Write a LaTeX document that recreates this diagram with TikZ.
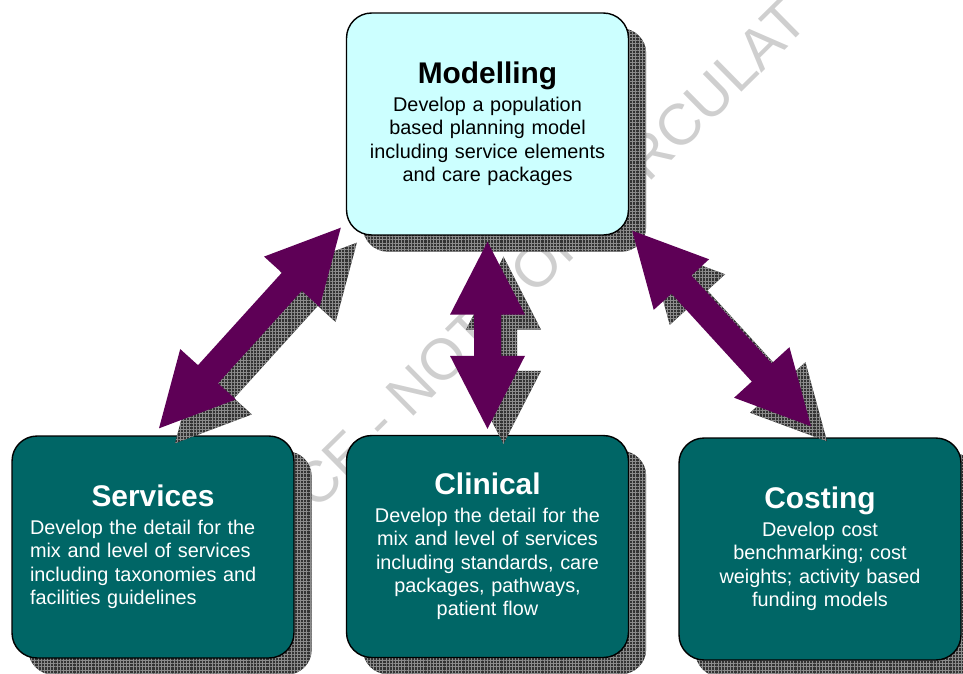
\documentclass[tikz,border=0pt]{standalone}
\usepackage{fontspec}
\setmainfont{Liberation Sans}
\usetikzlibrary{calc,patterns.meta}

\definecolor{skyfill}{HTML}{CCFFFF}
\definecolor{tealfill}{HTML}{006666}
\definecolor{plum}{HTML}{5E0056}

\pgfdeclarelayer{back}
\pgfsetlayers{back,main}

\newcommand{\ttlfont}{\fontsize{17}{20}\selectfont\bfseries}
\newcommand{\stagetitle}[1]{{\centering\ttlfont #1\par}\vspace{2.5pt}}

% sizes of the fat double arrows
\def\arrhead{1.46cm}
\def\arrwing{0.75cm}
\def\arrshaft{0.27cm}
% outline of a fat double arrow between two points
\newcommand{\fatarrow}[2]{(#1)
  -- ($(#1)!\arrhead!(#2)!\arrwing!90:(#2)$) -- ($(#1)!\arrhead!(#2)!\arrshaft!90:(#2)$)
  -- ($(#2)!\arrhead!(#1)!\arrshaft!-90:(#1)$) -- ($(#2)!\arrhead!(#1)!\arrwing!-90:(#1)$)
  -- (#2)
  -- ($(#2)!\arrhead!(#1)!\arrwing!90:(#1)$) -- ($(#2)!\arrhead!(#1)!\arrshaft!90:(#1)$)
  -- ($(#1)!\arrhead!(#2)!\arrshaft!-90:(#2)$) -- ($(#1)!\arrhead!(#2)!\arrwing!-90:(#2)$)
  -- cycle}

\tikzset{
  stagebox/.style={draw=black, line width=0.8pt, rounded corners=0.5cm,
    minimum width=5.64cm, minimum height=4.44cm, text width=4.92cm,
    align=center, font=\fontsize{11.3}{13.3}\selectfont},
  topbox/.style={stagebox, fill=skyfill, text=black},
  lowbox/.style={stagebox, fill=tealfill, text=white},
  hatchshadow/.style={preaction={fill=black!80},
    pattern={Hatch[angle=0, distance=1.8pt, line width=0.35pt]}, pattern color=black!45},
  watermark/.style={text=black!19, font=\fontsize{33}{36}\selectfont, inner sep=0pt},
}

\begin{document}
\begin{tikzpicture}[x=0.02cm, y=-0.02cm]
\useasboundingbox (0,0) rectangle (963,673);

% the four stages
\node[topbox] (model) at (487.5,124) {\stagetitle{Modelling}Develop a population\\based planning model\\including service elements\\and care packages};
\node[lowbox, align=left] (serv) at (153,547) {\stagetitle{Services}Develop the detail for the\\mix and level of services\\including taxonomies and\\facilities guidelines};
\node[lowbox] (clin) at (487.5,546.5) {\stagetitle{Clinical}Develop the detail for the\\mix and level of services\\including standards, care\\packages, pathways,\\patient flow};
\node[lowbox] (cost) at (820,549) {\stagetitle{Costing}Develop cost\\benchmarking; cost\\weights; activity based\\funding models};

% stamp and box shadows go underneath
\begin{pgfonlayer}{back}
\node[watermark, rotate=44.6, anchor=base west] (stamp) at (316,512) {CE - NOT FOR CIRCULAT};
\foreach \b in {model,serv,clin,cost}
  \path[hatchshadow, rounded corners=0.5cm] ($(\b.north west)+(17,16)$) rectangle ($(\b.south east)+(17,16)$);
\end{pgfonlayer}

% arrow ends
\coordinate (lu) at ($(model.south west)+(-5,-8)$);
\coordinate (ld) at ($(serv.north)+(6,-7)$);
\coordinate (cu) at ($(model.south)+(0,6)$);
\coordinate (cd) at ($(clin.north)+(0,-6)$);
\coordinate (ru) at ($(model.south east)+(3,-5)$);
\coordinate (rd) at ($(cost.north)+(-9,-11)$);

\foreach \a/\b in {lu/ld,cu/cd,ru/rd}{
  \coordinate (s\a) at ($(\a)+(16,15)$);
  \coordinate (s\b) at ($(\b)+(16,15)$);
  \path[hatchshadow] \fatarrow{s\a}{s\b};
}
\foreach \a/\b in {lu/ld,cu/cd,ru/rd}
  \fill[plum] \fatarrow{\a}{\b};

\end{tikzpicture}
\end{document}
